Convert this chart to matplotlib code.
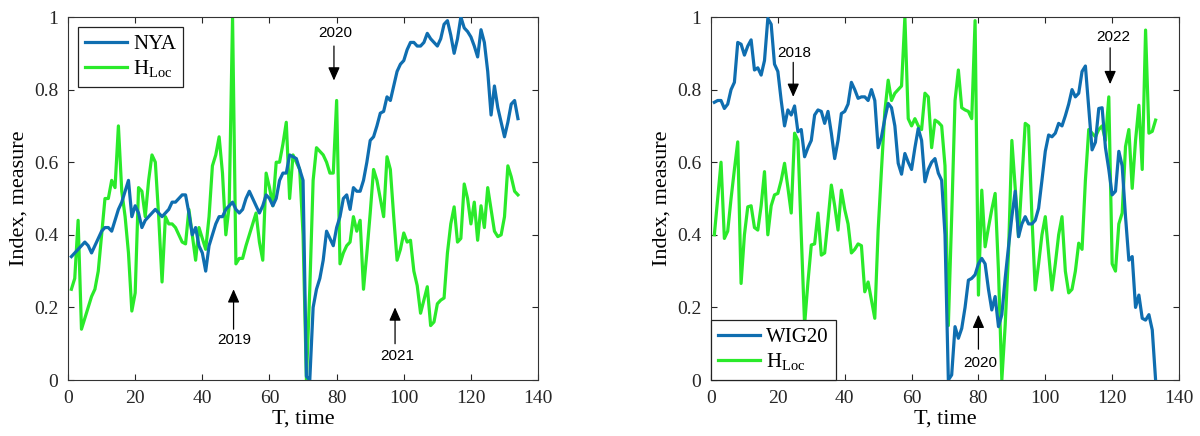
import matplotlib
matplotlib.use('Agg')
import matplotlib.pyplot as plt
import numpy as np

# ---- data ----
nya = [0.34, 0.35, 0.36, 0.37, 0.38, 0.37, 0.35, 0.37, 0.39, 0.41,
       0.42, 0.42, 0.41, 0.44, 0.47, 0.49, 0.52, 0.55, 0.45, 0.48,
       0.46, 0.42, 0.44, 0.45, 0.46, 0.47, 0.46, 0.45, 0.46, 0.47,
       0.49, 0.49, 0.50, 0.51, 0.51, 0.46, 0.40, 0.42, 0.37, 0.35,
       0.30, 0.37, 0.40, 0.43, 0.45, 0.45, 0.47, 0.48, 0.49, 0.47,
       0.46, 0.47, 0.50, 0.52, 0.50, 0.48, 0.46, 0.48, 0.51, 0.50,
       0.48, 0.50, 0.55, 0.57, 0.57, 0.62, 0.615, 0.61, 0.58, 0.55,
       0.01, 0.00, 0.20, 0.25, 0.28, 0.33, 0.41, 0.39, 0.37, 0.42,
       0.45, 0.50, 0.51, 0.47, 0.53, 0.52, 0.52, 0.55, 0.60, 0.66,
       0.67, 0.70, 0.735, 0.74, 0.78, 0.77, 0.81, 0.85, 0.87, 0.88,
       0.91, 0.93, 0.93, 0.92, 0.92, 0.93, 0.955, 0.94, 0.93, 0.92,
       0.94, 0.98, 0.99, 0.95, 0.90, 0.94, 1.00, 0.97, 0.96, 0.945,
       0.92, 0.89, 0.965, 0.93, 0.85, 0.73, 0.81, 0.75, 0.71, 0.67,
       0.71, 0.76, 0.77, 0.72]
hloc_left = [0.25, 0.28, 0.44, 0.14, 0.17, 0.20, 0.23, 0.25, 0.30, 0.40,
             0.50, 0.50, 0.55, 0.53, 0.70, 0.52, 0.45, 0.35, 0.19, 0.24,
             0.53, 0.52, 0.45, 0.55, 0.62, 0.60, 0.45, 0.27, 0.45, 0.43,
             0.43, 0.42, 0.40, 0.38, 0.375, 0.47, 0.40, 0.33, 0.42, 0.39,
             0.36, 0.45, 0.59, 0.62, 0.67, 0.57, 0.40, 0.48, 1.00, 0.32,
             0.335, 0.335, 0.37, 0.40, 0.43, 0.46, 0.38, 0.33, 0.57, 0.53,
             0.48, 0.60, 0.60, 0.65, 0.71, 0.50, 0.62, 0.60, 0.58, 0.40,
             0.00, 0.25, 0.55, 0.64, 0.63, 0.62, 0.60, 0.57, 0.57, 0.77,
             0.32, 0.35, 0.37, 0.38, 0.45, 0.41, 0.44, 0.25, 0.35, 0.46,
             0.58, 0.55, 0.50, 0.45, 0.615, 0.58, 0.45, 0.33, 0.36, 0.405,
             0.38, 0.385, 0.30, 0.26, 0.184, 0.22, 0.257, 0.15, 0.16, 0.21,
             0.22, 0.226, 0.35, 0.43, 0.477, 0.38, 0.39, 0.54, 0.50, 0.43,
             0.49, 0.385, 0.48, 0.42, 0.53, 0.47, 0.41, 0.395, 0.40, 0.45,
             0.59, 0.56, 0.52, 0.51]
wig20 = [0.765, 0.77, 0.77, 0.748, 0.76, 0.80, 0.82, 0.93, 0.925, 0.895,
         0.92, 0.937, 0.854, 0.86, 0.84, 0.88, 0.996, 0.98, 0.87, 0.85,
         0.77, 0.70, 0.744, 0.73, 0.755, 0.684, 0.69, 0.615, 0.64, 0.66,
         0.73, 0.744, 0.74, 0.707, 0.74, 0.68, 0.61, 0.66, 0.734, 0.74,
         0.76, 0.82, 0.80, 0.776, 0.78, 0.78, 0.77, 0.80, 0.77, 0.64,
         0.67, 0.72, 0.762, 0.75, 0.70, 0.597, 0.567, 0.624, 0.60, 0.58,
         0.64, 0.693, 0.66, 0.546, 0.58, 0.60, 0.61, 0.57, 0.55, 0.40,
         0.00, 0.014, 0.147, 0.115, 0.142, 0.20, 0.275, 0.28, 0.29, 0.32,
         0.335, 0.32, 0.25, 0.193, 0.23, 0.147, 0.18, 0.28, 0.367, 0.45,
         0.52, 0.395, 0.43, 0.45, 0.43, 0.43, 0.44, 0.473, 0.55, 0.63,
         0.675, 0.67, 0.68, 0.707, 0.70, 0.728, 0.76, 0.80, 0.78, 0.79,
         0.85, 0.865, 0.75, 0.634, 0.655, 0.748, 0.75, 0.64, 0.58, 0.51,
         0.52, 0.63, 0.59, 0.45, 0.33, 0.34, 0.20, 0.234, 0.17, 0.165,
         0.18, 0.138, 0.00]
hloc_right = [0.40, 0.50, 0.60, 0.39, 0.41, 0.50, 0.58, 0.656, 0.266, 0.40,
              0.477, 0.48, 0.42, 0.413, 0.48, 0.574, 0.40, 0.48, 0.51, 0.514,
              0.55, 0.597, 0.53, 0.46, 0.68, 0.66, 0.40, 0.152, 0.27, 0.372,
              0.375, 0.46, 0.344, 0.35, 0.44, 0.537, 0.48, 0.413, 0.523, 0.47,
              0.43, 0.35, 0.36, 0.375, 0.37, 0.243, 0.27, 0.22, 0.17, 0.413,
              0.58, 0.74, 0.826, 0.77, 0.79, 0.80, 0.81, 1.00, 0.72, 0.70,
              0.72, 0.70, 0.69, 0.79, 0.78, 0.64, 0.716, 0.71, 0.70, 0.59,
              0.15, 0.45, 0.77, 0.854, 0.75, 0.744, 0.74, 0.72, 0.99, 0.234,
              0.523, 0.367, 0.42, 0.47, 0.514, 0.30, 0.00, 0.15, 0.35, 0.66,
              0.53, 0.395, 0.55, 0.707, 0.70, 0.45, 0.248, 0.32, 0.40, 0.45,
              0.35, 0.248, 0.32, 0.40, 0.45, 0.30, 0.24, 0.25, 0.30, 0.377,
              0.36, 0.55, 0.69, 0.68, 0.67, 0.69, 0.70, 0.66, 0.78, 0.32,
              0.30, 0.43, 0.46, 0.643, 0.69, 0.528, 0.66, 0.757, 0.58, 0.964,
              0.68, 0.685, 0.716]

left_notes = [("2019", 49.5, 0.11, 49.3, 0.14, 0.25),
              ("2020", 79.5, 0.955, 79.2, 0.92, 0.825),
              ("2021", 98.0, 0.065, 97.4, 0.10, 0.20)]
right_notes = [("2018", 24.9, 0.90, 24.6, 0.875, 0.78),
               ("2020", 80.5, 0.048, 80.0, 0.085, 0.18),
               ("2022", 120.2, 0.946, 119.4, 0.915, 0.815)]

blue = '#0f6eb0'
green = '#2aea2a'
serif = 'Liberation Serif'
plt.rcParams['font.family'] = serif

fig = plt.figure(figsize=(12, 4.36), dpi=100)
ax1 = fig.add_axes([0.0567, 0.1284, 0.3917, 0.8326])
ax2 = fig.add_axes([0.5925, 0.1284, 0.39, 0.8326])


def draw(ax, main, hloc, name, notes, legloc, anchor):
    t1 = np.arange(1, len(main) + 1)
    t2 = np.arange(1, len(hloc) + 1)
    ax.plot(t1, main, color=blue, lw=2.3, label=name, zorder=3)
    ax.plot(t2, hloc, color=green, lw=2.3, label='H$_{\\mathregular{Loc}}$', zorder=2)
    ax.set_xlim(0, 140)
    ax.set_ylim(0, 1)
    ax.set_xticks(np.arange(0, 141, 20))
    ax.set_yticks([0, 0.2, 0.4, 0.6, 0.8, 1])
    ax.set_yticklabels(['0', '0.2', '0.4', '0.6', '0.8', '1'])
    ax.tick_params(direction='in', top=True, right=True, labelsize=14,
                   length=4, width=0.8, colors='#262626', pad=7)
    for s in ax.spines.values():
        s.set_color('#333333')
        s.set_linewidth(0.8)
    ax.set_xlabel('T, time', fontsize=16, labelpad=2)
    ax.set_ylabel('Index, measure', fontsize=16, labelpad=4)
    for txt, tx, ty, ax_x, y0, y1 in notes:
        ax.annotate('', xy=(ax_x, y1), xytext=(ax_x, y0),
                    arrowprops=dict(arrowstyle='-|>,head_length=0.5,head_width=0.22',
                                    color='k', lw=0.9,
                                    mutation_scale=16, shrinkA=0, shrinkB=0))
        ax.text(tx, ty, txt, fontsize=11, family='Liberation Sans',
                ha='center', va='center')
    leg = ax.legend(loc=legloc, bbox_to_anchor=anchor, borderaxespad=0,
                    fontsize=15, handlelength=2.0, fancybox=False,
                    framealpha=1, edgecolor='#222222', borderpad=0.35,
                    labelspacing=0.2, handletextpad=0.3)
    leg.get_frame().set_linewidth(0.9)


draw(ax1, nya, hloc_left, 'NYA', left_notes, 'upper left', (0.021, 0.972))
draw(ax2, wig20, hloc_right, 'WIG20', right_notes, 'lower left', (0.0, 0.0))

plt.savefig('out.png', dpi=100)
